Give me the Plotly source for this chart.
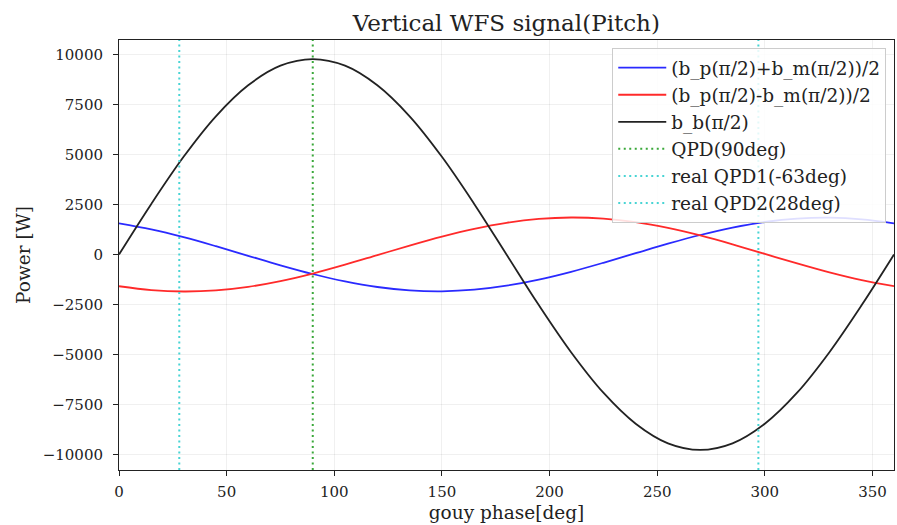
import plotly.graph_objects as go

# Gouy phase samples (deg) and the three WFS signal curves (W)
phase_deg = [0, 15, 30, 45, 60, 75, 90, 105, 120, 135, 150, 165, 180,
             195, 210, 225, 240, 255, 270, 285, 300, 315, 330, 345, 360]
sum_signal = [1560, 1255, 864, 414, -64, -538, -975, -1346, -1625, -1793, -1839, -1760, -1560,
              -1255, -864, -414, 64, 538, 975, 1346, 1625, 1793, 1839, 1760, 1560]
diff_signal = [-1586, -1778, -1850, -1795, -1618, -1331, -953, -510, -32, 448, 897, 1285, 1586,
               1778, 1850, 1795, 1618, 1331, 953, 510, 32, -448, -897, -1285, -1586]
bb_signal = [0, 2530, 4885, 6910, 8460, 9440, 9770, 9440, 8460, 6910, 4885, 2530, 0,
             -2530, -4885, -6910, -8460, -9440, -9770, -9440, -8460, -6910, -4885, -2530, 0]

curve_names = ["(b_p(π/2)+b_m(π/2))/2", "(b_p(π/2)-b_m(π/2))/2", "b_b(π/2)"]
curve_colors = ["#2a2aff", "#ff2a2a", "#222222"]

# QPD gouy phases (deg)
qpd_names = ["QPD(90deg)", "real QPD1(-63deg)", "real QPD2(28deg)"]
qpd_phases = [90, -63 % 360, 28]
qpd_colors = ["#3aa83a", "#48d4d4", "#48d4d4"]

x_ticks = [0, 50, 100, 150, 200, 250, 300, 350]
y_ticks = [-10000, -7500, -5000, -2500, 0, 2500, 5000, 7500, 10000]
y_ticktext = [f"{v:d}".replace("-", "−") for v in y_ticks]

Y_RANGE = [-10775, 10725]
X_RANGE = [0, 360]

FONT = "DejaVu Serif"
INK = "#222222"

fig = go.Figure()
for i, (name, ys, col) in enumerate(zip(curve_names, [sum_signal, diff_signal, bb_signal], curve_colors)):
    fig.add_trace(go.Scatter(
        x=phase_deg, y=ys, mode="lines", name=name,
        line=dict(color=col, width=1.8, shape="spline", smoothing=1.0),
        legendgroup=f"g{i}",
    ))

for j, (name, ph, col) in enumerate(zip(qpd_names, qpd_phases, qpd_colors)):
    fig.add_trace(go.Scatter(
        x=[ph, ph], y=Y_RANGE, mode="lines", name=name,
        line=dict(color=col, width=2, dash="2px,3.5px"),
        legendgroup=f"q{j}",
    ))

axis_common = dict(
    showline=True, linecolor=INK, linewidth=1, mirror=True,
    ticks="outside", ticklen=5, tickwidth=1, tickcolor=INK,
    showgrid=True, gridcolor="rgba(0,0,0,0.06)", gridwidth=1,
    zeroline=False,
    tickfont=dict(family=FONT, size=15, color=INK),
)

fig.update_layout(
    width=897, height=525,
    margin=dict(l=119, r=3, t=40, b=55),
    paper_bgcolor="white", plot_bgcolor="white",
    font=dict(family=FONT, color=INK),
    title=dict(text="Vertical WFS signal(Pitch)", x=0.5645, xanchor="center",
               y=0.957, yanchor="middle", font=dict(family=FONT, size=23, color=INK)),
    xaxis=dict(range=X_RANGE, tickvals=x_ticks, ticklabelstandoff=3,
               title=dict(text="gouy phase[deg]", font=dict(family=FONT, size=18.5), standoff=6),
               **axis_common),
    yaxis=dict(range=Y_RANGE, tickvals=y_ticks, ticktext=y_ticktext, ticklabelstandoff=7,
               title=dict(text="Power [W]", font=dict(family=FONT, size=18.5), standoff=7),
               **axis_common),
    legend=dict(
        x=0.99, y=0.981, xanchor="right", yanchor="top",
        bgcolor="rgba(255,255,255,0.85)", bordercolor="#cccccc", borderwidth=1,
        font=dict(family=FONT, size=18.5, color=INK),
        tracegroupgap=0, traceorder="grouped", itemwidth=48,
    ),
    showlegend=True,
)

fig.write_html("out.html")
